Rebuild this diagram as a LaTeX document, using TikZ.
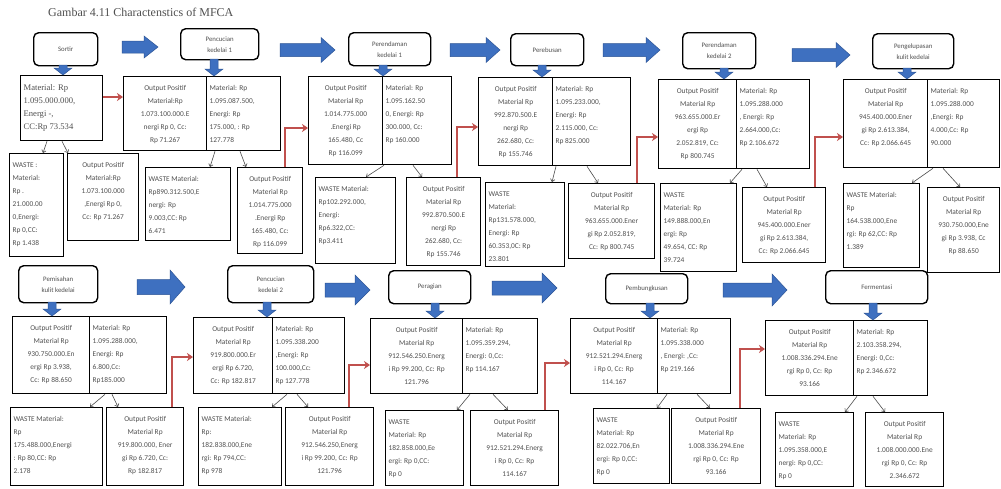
\documentclass[tikz,border=0pt]{standalone}
\usepackage{fontspec}
\setmainfont{Carlito}
\newfontfamily\seriffont{Liberation Serif}
\usetikzlibrary{arrows.meta}
\definecolor{txtgray}{RGB}{80,80,80}
\definecolor{bfill}{RGB}{62,112,192}
\definecolor{bdraw}{RGB}{45,85,150}
\definecolor{rline}{RGB}{192,80,77}
\tikzset{
 databox/.style={draw=black, line width=1.3pt, inner xsep=3pt, inner ysep=9pt, text=txtgray},
 procbox/.style={draw=black, line width=1.4pt, rounded corners=5pt, align=center, text=txtgray, font=\fontsize{6.8}{11}\selectfont, inner sep=1pt},
 redconn/.style={draw=rline, line width=1.4pt, -{Stealth[length=6pt,width=8pt]}},
 grayconn/.style={draw=black!70, line width=0.6pt, -{Straight Barb[length=2.5pt,width=4.5pt]}},
 blockarrow/.style={fill=bfill, draw=bdraw, line width=0.5pt},
}
\newcommand{\datanode}[7]{\node[databox, anchor=north west, minimum width=#4pt, minimum height=#5pt] (#1) at (#2,#3) {\parbox[t][\dimexpr#5pt-18pt\relax][t]{\dimexpr#4pt-6pt\relax}{\fontsize{7.4}{13}\selectfont #6 #7}};}
\newcommand{\procnode}[6]{\node[procbox, anchor=north west, minimum width=#4pt, minimum height=#5pt] (#1) at (#2,#3) {#6};}
\newcommand{\rightblock}[6]{\filldraw[blockarrow] (#1,{#3-#4}) -- ({#2-#6},{#3-#4}) -- ({#2-#6},{#3-#5}) -- (#2,#3) -- ({#2-#6},{#3+#5}) -- ({#2-#6},{#3+#4}) -- (#1,{#3+#4}) -- cycle;}
\newcommand{\downblock}[3]{\filldraw[blockarrow] ({#1-4},#2) -- ({#1+4},#2) -- ({#1+4},{#3-7}) -- ({#1+9},{#3-7}) -- (#1,#3) -- ({#1-9},{#3-7}) -- ({#1-4},{#3-7}) -- cycle;}
\begin{document}
\begin{tikzpicture}[x=1pt,y=-1pt]
\useasboundingbox (0,0) rectangle (1001,488);
\fill[white] (0,0) rectangle (1001,488);
\node[anchor=base west, text=txtgray, font=\seriffont\fontsize{12}{14}\selectfont, inner sep=0] (title) at (48,16) {Gambar 4.11 Charactenstics of MFCA};

% ---------- top row: process boxes ----------
\procnode{P1}{33}{32}{64}{33}{Sortir}
\procnode{P2}{180}{28}{78}{31}{Pencucian\\kedelai 1}
\procnode{P3}{348}{32}{82}{33}{Perendaman\\kedelai 1}
\procnode{P4}{510}{33}{73}{32}{Perebusan}
\procnode{P5}{682}{32}{73}{36}{Perendaman\\kedelai 2}
\procnode{P6}{872}{33}{81}{35}{Pengelupasan\\kulit kedelai}

% stage 1
\datanode{Mat1}{20}{75}{82}{65}{\raggedright\seriffont\fontsize{8.6}{13}\selectfont}{Material: Rp\\1.095.000.000,\\Energi -,\\CC:Rp 73.534}
\datanode{Waste1}{9}{153}{54}{103}{\raggedright}{WASTE :\\Material:\\Rp .\\21.000.00\\0,Energi:\\Rp 0,CC:\\Rp 1.438}
\datanode{Out1b}{67}{153}{71}{87}{\centering}{Output Positif\\Material:Rp\\1.073.100.000\\,Energi Rp 0,\\Cc: Rp 71.267}
% stage 2
\datanode{Out2a}{123}{76}{83}{74}{\centering}{Output Positif\\Material:Rp\\1.073.100.000.E\\nergi Rp 0, Cc:\\Rp 71.267}
\datanode{Mat2}{206}{76}{74}{74}{\raggedright}{Material: Rp\\1.095.087.500,\\Energi: Rp\\175.000, : Rp\\127.778}
\datanode{Waste2}{145}{167}{85}{73}{\raggedright}{WASTE Material:\\Rp890.312.500,E\\nergi: Rp\\9.003,CC: Rp\\6.471}
\datanode{Out2b}{237}{167}{65}{86}{\centering}{Output Positif\\Material Rp\\1.014.775.000\\.Energi Rp\\165.480, Cc:\\Rp 116.099}
% stage 3
\datanode{Out3a}{308}{76}{74}{88}{\centering}{Output Positif\\Material Rp\\1.014.775.000\\.Energi Rp\\165.480, Cc\\Rp 116.099}
\datanode{Mat3}{382}{76}{69}{88}{\raggedright}{Material: Rp\\1.095.162.50\\0, Energi: Rp\\300.000, Cc:\\Rp 160.000}
\datanode{Waste3}{315}{177}{80}{86}{\raggedright}{WASTE Material:\\Rp102.292.000,\\Energi:\\Rp6.322,CC:\\Rp3.411}
\datanode{Out3b}{406}{177}{74}{88}{\centering}{Output Positif\\Material Rp\\992.870.500.E\\nergi Rp\\262.680, Cc:\\Rp 155.746}
% stage 4
\datanode{Out4a}{478}{77}{74}{88}{\centering}{Output Positif\\Material Rp\\992.870.500.E\\nergi Rp\\262.680, Cc:\\Rp 155.746}
\datanode{Mat4}{552}{77}{78}{88}{\raggedright}{Material: Rp\\1.095.233.000,\\Energi: Rp\\2.115.000, Cc:\\Rp 825.000}
\datanode{Waste4}{485}{182}{79}{84}{\raggedright}{WASTE\\Material:\\Rp131.578.000,\\Energi: Rp\\60.353,0C: Rp\\23.801}
\datanode{Out4b}{568}{183}{86}{75}{\centering}{Output Positif\\Material Rp\\963.655.000.Ener\\gi Rp 2.052.819,\\Cc: Rp 800.745}
% stage 5
\datanode{Out5a}{658}{79}{78}{89}{\centering}{Output Positif\\Material Rp\\963.655.000.Er\\ergi Rp\\2.052.819, Cc:\\Rp 800.745}
\datanode{Mat5}{736}{79}{73}{89}{\raggedright}{Material: Rp\\1.095.288.000\\, Energi: Rp\\2.664.000,Cc:\\Rp 2.106.672}
\datanode{Waste5}{660}{183}{76}{88}{\raggedright}{WASTE\\Material: Rp\\149.888.000,En\\ergi: Rp\\49.654, CC: Rp\\39.724}
\datanode{Out5b}{742}{187}{83}{75}{\centering}{Output Positif\\Material Rp\\945.400.000.Ener\\gi Rp 2.613.384,\\Cc: Rp 2.066.645}
% stage 6
\datanode{Out6a}{843}{79}{84}{88}{\centering}{Output Positif\\Material Rp\\945.400.000.Ener\\gi Rp 2.613.384,\\Cc: Rp 2.066.645}
\datanode{Mat6}{927}{79}{72}{88}{\raggedright}{Material: Rp\\1.095.288.000\\,Energi: Rp\\4.000,Cc: Rp\\90.000}
\datanode{Waste6}{843}{183}{76}{84}{\raggedright}{WASTE Material:\\Rp\\164.538.000,Ene\\rgi: Rp 62,CC: Rp\\1.389}
\datanode{Out6b}{927}{187}{72}{85}{\centering}{Output Positif\\Material Rp\\930.750.000,Ene\\gi Rp 3.938, Cc\\Rp 88.650}

% ---------- bottom row: process boxes ----------
\procnode{P7}{18}{265}{79}{37}{Pemisahan\\kulit kedelai}
\procnode{P8}{227}{265}{86}{37}{Pencucian\\kedelai 2}
\procnode{P9}{388}{270}{82}{33}{Peragian}
\procnode{P10}{605}{273}{82}{30}{Pembungkusan}
\procnode{P11}{825}{270}{102}{33}{Fermentasi}

% stage 7
\datanode{Out7a}{12}{316}{77}{77}{\centering}{Output Positif\\Material Rp\\930.750.000.En\\ergi Rp 3.938,\\Cc: Rp 88.650}
\datanode{Mat7}{89}{316}{77}{77}{\raggedright}{Material: Rp\\1.095.288.000,\\Energi: Rp\\6.800,Cc:\\Rp185.000}
\datanode{Waste7}{10}{407}{92}{78}{\raggedright}{WASTE Material:\\Rp\\175.488.000,Energi\\: Rp 80,CC: Rp\\2.178}
\datanode{Out7b}{106}{407}{77}{78}{\centering}{Output Positif\\Material Rp\\919.800.000, Ener\\gi Rp 6.720, Cc:\\Rp 182.817}
% stage 8
\datanode{Out8a}{193}{317}{79}{76}{\centering}{Output Positif\\Material Rp\\919.800.000.Er\\ergi Rp 6.720,\\Cc: Rp 182.817}
\datanode{Mat8}{272}{317}{72}{76}{\raggedright}{Material: Rp\\1.095.338.200\\,Energi: Rp\\100.000,Cc:\\Rp 127.778}
\datanode{Waste8}{198}{407}{83}{78}{\raggedright}{WASTE Material:\\Rp:\\182.838.000,Ene\\rgi: Rp 794,CC:\\Rp 978}
\datanode{Out8b}{285}{407}{88}{78}{\centering}{Output Positif\\Material Rp\\912.546.250,Energ\\i Rp 99.200, Cc: Rp\\121.796}
% stage 9
\datanode{Out9a}{370}{318}{92}{75}{\centering}{Output Positif\\Material Rp\\912.546.250.Energ\\i Rp 99.200, Cc: Rp\\121.796}
\datanode{Mat9}{462}{318}{75}{75}{\raggedright}{Material: Rp\\1.095.359.294,\\Energi: 0,Cc:\\Rp 114.167}
\datanode{Waste9}{385}{410}{78}{75}{\raggedright}{WASTE\\Material: Rp\\182.858.000,Ee\\ergi: Rp 0,CC:\\Rp 0}
\datanode{Out9b}{470}{410}{88}{75}{\centering}{Output Positif\\Material Rp\\912.521.294.Energ\\i Rp 0, Cc: Rp\\114.167}
% stage 10
\datanode{Out10a}{570}{318}{87}{75}{\centering}{Output Positif\\Material Rp\\912.521.294.Energ\\i Rp 0, Cc: Rp\\114.167}
\datanode{Mat10}{657}{318}{73}{75}{\raggedright}{Material: Rp\\1.095.338.000\\, Energi: ,Cc:\\Rp 219.166}
\datanode{Waste10}{593}{408}{76}{75}{\raggedright}{WASTE\\Material: Rp\\82.022.706,En\\ergi: Rp 0,CC:\\Rp 0}
\datanode{Out10b}{671}{408}{89}{75}{\centering}{Output Positif\\Material Rp\\1.008.336.294.Ene\\rgi Rp 0, Cc: Rp\\93.166}
% stage 11
\datanode{Out11a}{765}{320}{88}{75}{\centering}{Output Positif\\Material Rp\\1.008.336.294.Ene\\rgi Rp 0, Cc: Rp\\93.166}
\datanode{Mat11}{853}{320}{74}{75}{\raggedright}{Material: Rp\\2.103.358.294,\\Energi: 0,Cc:\\Rp 2.346.672}
\datanode{Waste11}{775}{412}{78}{74}{\raggedright}{WASTE\\Material: Rp\\1.095.358.000,E\\nergi: Rp 0,CC:\\Rp 0}
\datanode{Out11b}{865}{412}{78}{74}{\centering}{Output Positif\\Material Rp\\1.008.000.000.Ene\\rgi Rp 0, Cc: Rp\\2.346.672}

% ---------- blue block arrows ----------
\rightblock{122}{158}{47}{6}{11}{14}
\rightblock{280}{335}{50}{6.5}{12.5}{14}
\rightblock{450}{500}{50}{6.5}{12.5}{14}
\rightblock{603}{660}{50}{6.5}{12.5}{14}
\rightblock{792}{850}{55}{6.5}{12.5}{14}
\rightblock{137}{185}{287}{7.5}{17}{15}
\rightblock{325}{370}{290}{7}{15}{15}
\rightblock{492}{557}{288}{7}{15}{15}
\rightblock{723}{787}{290}{7}{16}{15}
\downblock{63}{65}{75}
\downblock{214}{59}{76}
\downblock{383}{65}{76}
\downblock{542}{65}{77}
\downblock{724}{68}{79}
\downblock{907}{68}{79}
\downblock{52}{302}{316}
\downblock{267}{302}{317}
\downblock{435}{303}{318}
\downblock{650}{303}{318}
\downblock{873}{303}{320}

% ---------- red connectors ----------
\draw[redconn] (Mat1.east |- 0,97) -- (Out2a.west |- 0,97);
\draw[redconn] (Out2b.north -| 285,0) |- (Out3a.west |- 0,128);
\draw[redconn] (Out3b.north -| 457,0) |- (Out4a.west |- 0,127);
\draw[redconn] (Out4b.north -| 637,0) |- (Out5a.west |- 0,137);
\draw[redconn] (Out5b.north -| 815,0) |- (Out6a.west |- 0,137);
\draw[redconn] (Out7b.north -| 172,0) |- (Out8a.west |- 0,357);
\draw[redconn] (Out8b.north -| 349,0) |- (Out9a.west |- 0,365);
\draw[redconn] (Out9b.north -| 545,0) |- (Out10a.west |- 0,363);
\draw[redconn] (Out10b.north -| 740,0) |- (Out11a.west |- 0,349);

% ---------- gray split arrows ----------
\draw[grayconn] (Mat1.south -| 47,0) -- (Waste1.north -| 43,0);
\draw[grayconn] (Mat1.south -| 62,0) -- (Out1b.north -| 68,0);
\draw[grayconn] (Mat2.south -| 215,0) -- (Waste2.north -| 210,0);
\draw[grayconn] (Mat2.south -| 240,0) -- (Out2b.north -| 246,0);
\draw[grayconn] (Mat3.south -| 384,0) -- (Waste3.north -| 366,0);
\draw[grayconn] (Mat3.south -| 413,0) -- (Out3b.north -| 422,0);
\draw[grayconn] (Mat4.south -| 556,0) -- (Waste4.north -| 552,0);
\draw[grayconn] (Mat4.south -| 587,0) -- (Out4b.north -| 598,0);
\draw[grayconn] (Mat5.south -| 742,0) -- (Waste5.north -| 730,0);
\draw[grayconn] (Mat5.south -| 757,0) -- (Out5b.north -| 767,0);
\draw[grayconn] (Mat6.south -| 933,0) -- (Waste6.north -| 912,0);
\draw[grayconn] (Mat6.south -| 943,0) -- (Out6b.north -| 960,0);
\draw[grayconn] (Mat7.south -| 105,0) -- (Waste7.north -| 90,0);
\draw[grayconn] (Mat7.south -| 112,0) -- (Out7b.north -| 118,0);
\draw[grayconn] (Mat8.south -| 287,0) -- (Waste8.north -| 272,0);
\draw[grayconn] (Mat8.south -| 297,0) -- (Out8b.north -| 308,0);
\draw[grayconn] (Mat9.south -| 470,0) -- (Waste9.north -| 457,0);
\draw[grayconn] (Mat9.south -| 493,0) -- (Out9b.north -| 508,0);
\draw[grayconn] (Mat10.south -| 667,0) -- (Waste10.north -| 657,0);
\draw[grayconn] (Mat10.south -| 697,0) -- (Out10b.north -| 710,0);
\draw[grayconn] (Mat11.south -| 857,0) -- (Waste11.north -| 845,0);
\draw[grayconn] (Mat11.south -| 873,0) -- (Out11b.north -| 885,0);
\end{tikzpicture}
\end{document}
